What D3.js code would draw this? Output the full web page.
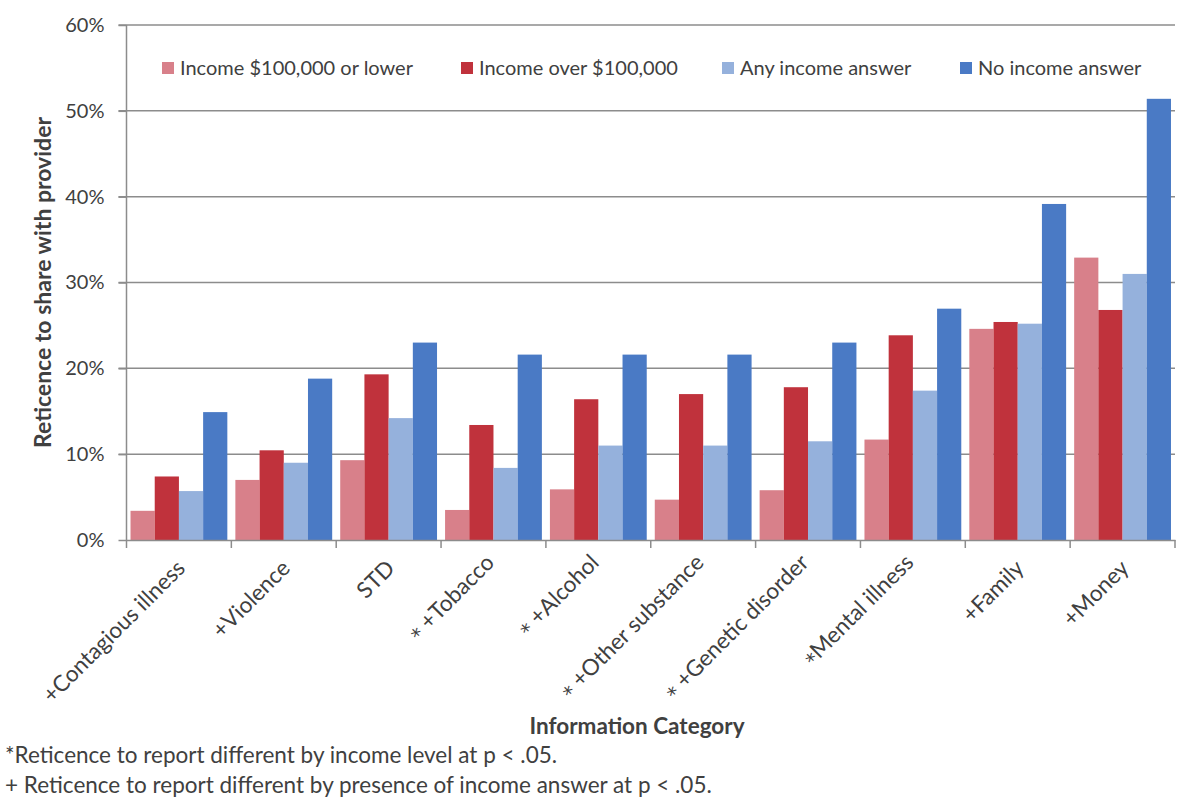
<!DOCTYPE html>
<html><head><meta charset="utf-8">
<script src="https://cdn.jsdelivr.net/npm/d3@7"></script>
<style>
body{margin:0;background:#fff;}
text{font-family:Lato,"Open Sans",sans-serif;fill:#404040;}
</style></head><body>
<svg id="chart" width="1200" height="803"></svg>
<script>
const categories = ["+Contagious illness","+Violence","STD","* +Tobacco","* +Alcohol","* +Other substance","* +Genetic disorder","*Mental illness","+Family","+Money"];
const seriesNames = ["Income $100,000 or lower","Income over $100,000","Any income answer","No income answer"];
const incomeLow  = [3.4, 7.0, 9.3, 3.5, 5.9, 4.7, 5.8, 11.7, 24.6, 32.9];
const incomeHigh = [7.4, 10.45, 19.3, 13.4, 16.4, 17.0, 17.8, 23.85, 25.4, 26.8];
const anyIncome  = [5.7, 9.0, 14.2, 8.4, 11.0, 11.0, 11.5, 17.4, 25.2, 31.0];
const noIncome   = [14.9, 18.8, 23.0, 21.6, 21.6, 21.6, 23.0, 26.95, 39.15, 51.4];
const yTicks = [0,10,20,30,40,50,60];
const colors = ["#D8808A","#C0323C","#95B1DC","#4A7AC5"];
const series = [incomeLow, incomeHigh, anyIncome, noIncome];

(function(){
const svg = d3.select("#chart");
const L = 126.5, R = 1175, T = 25, B = 540;
const x = d3.scaleBand().domain(categories).range([L, R]).paddingInner(0).paddingOuter(0);
const xi = d3.scaleBand().domain(d3.range(4)).range([0, x.bandwidth()]).paddingOuter(0.166).paddingInner(0);
const y = d3.scaleLinear().domain([0,60]).range([B, T]);

svg.append("g").selectAll("line").data(yTicks.filter(d=>d>0)).join("line")
  .attr("x1", L-8).attr("x2", R).attr("y1", d=>y(d)).attr("y2", d=>y(d))
  .attr("stroke","#8c8c8c").attr("stroke-width",1.5);

const g = svg.append("g");
categories.forEach((c, ci) => {
  series.forEach((s, si) => {
    g.append("rect").attr("x", x(c)+xi(si)).attr("width", xi.bandwidth())
      .attr("y", y(s[ci])).attr("height", y(0)-y(s[ci])).attr("fill", colors[si]);
  });
});

const ya = svg.append("g").attr("transform",`translate(${L},0)`)
  .call(d3.axisLeft(y).tickValues(yTicks).tickFormat(d=>d+"%").tickSize(8).tickPadding(14));
ya.select(".domain").attr("stroke","#8c8c8c").attr("stroke-width",1.5).attr("d",`M0,${T}V${B}`);
ya.selectAll(".tick line").attr("stroke","#8c8c8c").attr("stroke-width",1.5);
ya.selectAll(".tick text").attr("font-size",20).attr("fill","#404040").style("font-family","Lato");

const xa = svg.append("g").attr("transform",`translate(0,${B})`)
  .call(d3.axisBottom(x).tickSize(0).tickFormat(""));
xa.select(".domain").attr("stroke","#8c8c8c").attr("stroke-width",1.5);
const tickPos = categories.map(c=>x(c)).concat([R]);
svg.append("g").selectAll("line").data(tickPos).join("line")
  .attr("x1",d=>d).attr("x2",d=>d).attr("y1",B).attr("y2",B+8)
  .attr("stroke","#8c8c8c").attr("stroke-width",1.5);

const lbl = svg.append("g").selectAll("text").data(categories).join("text")
  .attr("transform", d=>`translate(${x(d)+x.bandwidth()/2+2},${B+24}) rotate(-45)`)
  .attr("text-anchor","end").attr("dy","0.35em").attr("font-size",22.5);
lbl.each(function(d){
  const t = d3.select(this);
  const m = d.match(/^(\*)(.*)$/);
  if (m) {
    t.append("tspan").style("font-family","'DejaVu Sans'").attr("font-size",20).attr("dy","0.12em").text(m[1]);
    t.append("tspan").attr("dy","-0.11em").text(m[2]);
  } else {
    t.text(d);
  }
});

svg.append("text").attr("transform",`translate(51,${(T+B)/2}) rotate(-90)`)
  .attr("text-anchor","middle").attr("font-size",23).attr("font-weight","bold").text("Reticence to share with provider");
svg.append("text").attr("x",637).attr("y",734).attr("text-anchor","middle")
  .attr("font-size",22.5).attr("font-weight","bold").text("Information Category");

const legX = [162, 461, 722, 960];
const leg = svg.append("g");
seriesNames.forEach((n,i)=>{
  leg.append("rect").attr("x",legX[i]).attr("y",62).attr("width",12).attr("height",12).attr("fill",colors[i]);
  leg.append("text").attr("x",legX[i]+18).attr("y",75).attr("font-size",20).text(n);
});

svg.append("text").attr("x",5).attr("y",763).attr("font-size",22.5).text("*Reticence to report different by income level at p < .05.");
svg.append("text").attr("x",5).attr("y",793).attr("font-size",22.5).text("+ Reticence to report different by presence of income answer at p < .05.");
})();
</script>
</body></html>
